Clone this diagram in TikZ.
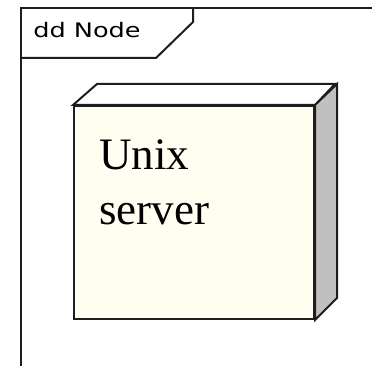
\documentclass[tikz,border=0pt]{standalone}
\usepackage{fontspec}
\setmainfont{Liberation Serif}
\newfontfamily\tabfont{DejaVu Sans}
\usetikzlibrary{positioning,calc}
\definecolor{fc}{HTML}{FFFEF0}
\definecolor{sd}{HTML}{C0C0C0}
\definecolor{ln}{HTML}{1E1E1E}

\begin{document}
\begin{tikzpicture}[x=1pt,y=-1pt,
    edge/.style={draw=ln,line width=2pt,line join=miter},
    front/.style={edge,fill=fc,minimum width=240pt,minimum height=213pt,inner sep=0pt}]
  \useasboundingbox (0,0) rectangle (372,366);
  % diagram frame and its name tab
  \coordinate (fr) at (21,8);
  \draw[edge] (21,366) -- (fr) -- (372,8);
  \node[anchor=base west,inner sep=0pt,xscale=1.28,
        font=\tabfont\fontsize{20}{20}\selectfont] (tab) at (33,38) {dd Node};
  \draw[edge] (21,58) -- (156,58) -- (193,22) -- (193,8);
  % the node: front, top and side faces
  \node[front,anchor=north west] (srv) at (73,105) {};
  \draw[edge,fill=white] (srv.north west) -- ++(24,-21) -- ++(238,0)
    -- (srv.north east) -- cycle;
  \draw[edge,fill=sd] (srv.north east) -- ++(22,-21) -- ++(0,214)
    -- (srv.south east) -- cycle;
  \node[anchor=base west,align=left,inner sep=0pt,
        font=\fontsize{45}{55}\selectfont] (lbl)
    at ($(srv.north west)+(26,120)$) {Unix\\server};
\end{tikzpicture}
\end{document}
